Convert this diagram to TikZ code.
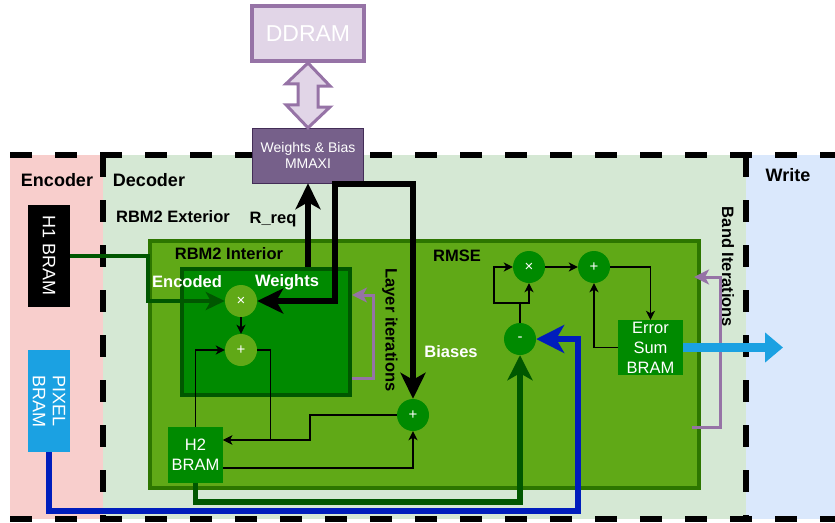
\documentclass[tikz,border=0pt]{standalone}
\usepackage{fontspec}
\setmainfont{Liberation Sans}
\usepackage{xcolor}
\usepackage{tikz}
\usetikzlibrary{positioning,arrows.meta}

\definecolor{encfill}{HTML}{F8CECC}
\definecolor{decfill}{HTML}{D5E8D4}
\definecolor{wrtfill}{HTML}{DAE8FC}
\definecolor{midgreen}{HTML}{60A917}
\definecolor{midgreenline}{HTML}{2D7600}
\definecolor{dkgreen}{HTML}{008A00}
\definecolor{dkgreenline}{HTML}{005700}
\definecolor{axifill}{HTML}{76608A}
\definecolor{axiline}{HTML}{432D57}
\definecolor{ddrfill}{HTML}{E1D5E7}
\definecolor{ddrline}{HTML}{9673A6}
\definecolor{pixblue}{HTML}{1BA1E2}
\definecolor{busblue}{HTML}{001DBC}

\begin{document}
\begin{tikzpicture}[
  x=1pt, y=-1pt,
  font=\fontsize{16.5}{20}\selectfont,
  border/.style={line width=5.5pt, dash pattern=on 22pt off 23pt},
  region/.style={font=\fontsize{18}{22}\selectfont\bfseries},
  title/.style={font=\fontsize{16.5}{20}\selectfont\bfseries},
  bram/.style={fill=dkgreen, text=white, align=center, inner sep=0pt, font=\fontsize{16.5}{20}\selectfont},
  op/.style={circle, fill=dkgreen, text=white, minimum size=32pt, inner sep=0pt, font=\fontsize{15}{17}\selectfont},
  subop/.style={op, fill=midgreen},
  flow/.style={-{Stealth[length=9pt, width=9pt, inset=2.5pt]}, line width=1.4pt},
  bus/.style={-{Stealth[length=26pt, width=25pt, inset=7pt]}, line width=6pt},
  iter/.style={-{Stealth[length=15pt, width=15pt, inset=4pt]}, draw=ddrline, line width=3pt}
]
\useasboundingbox (0,0) rectangle (835,522);
\fill[encfill] (10,155) rectangle (103,519);
\fill[decfill] (103,155) rectangle (746,519);
\fill[wrtfill] (746,155) rectangle (835,519);
\draw[border] (10,155) -- (835,155);
\draw[border] (10,519) -- (835,519);
\draw[border] (103,155) -- (103,519);
\draw[border] (746,155) -- (746,519);

\node[region] (enc) at (57,180) {Encoder};
\node[region] (dec) at (149,180) {Decoder};
\node[region] (wrt) at (788,175) {Write};
\node[title] (ext) at (173,217) {RBM2 Exterior};
\node[title] (rreq) at (273,220) {R\_req};

\node[draw=midgreenline, fill=midgreen, line width=4pt, minimum width=549pt, minimum height=247pt] (rbm) at (424.5,364.5) {};
\node[draw=dkgreenline, fill=dkgreen, line width=4pt, minimum width=168pt, minimum height=126pt] (inner) at (266,332) {};
\node[title] (rbmlbl) at (229,254) {RBM2 Interior};
\node[title] (rmse) at (457,256) {RMSE};
\node[title, text=white] (enclbl) at (187,282) {Encoded};
\node[title, text=white] (wlbl) at (287,282) {Weights};
\node[title, text=white] (blbl) at (451,352) {Biases};
\node[title, rotate=-90] (layer) at (390,330) {Layer iterations};
\node[title, rotate=-90] (band) at (728,267) {Band Iterations};

\node[draw=ddrline, fill=ddrfill, line width=4pt, text=white, minimum width=112pt, minimum height=55pt, font=\fontsize{23}{26}\selectfont] (ddram) at (308,33.5) {DDRAM};
\node[draw=axiline, fill=axifill, text=white, align=center, minimum width=111pt, minimum height=55pt, inner sep=0pt, font=\fontsize{14}{16.5}\selectfont] (mmaxi) at (308,155.5) {Weights \& Bias\\MMAXI};
\node[fill=black, text=white, rotate=-90, minimum width=102pt, minimum height=42pt, inner sep=0pt, font=\fontsize{18}{20}\selectfont] (h1) at (49,256) {H1 BRAM};
\node[fill=pixblue, text=white, rotate=-90, align=center, minimum width=102pt, minimum height=42pt, inner sep=0pt, font=\fontsize{18}{20}\selectfont] (pixel) at (49,401) {PIXEL\\BRAM};
\node[bram, minimum width=55pt, minimum height=56pt] (h2) at (195.5,455) {H2\\BRAM};
\node[bram, minimum width=65pt, minimum height=55pt] (errsum) at (650.5,347.5) {Error\\Sum\\BRAM};

\node[subop] (mul) at (241,301) {×};
\node[subop] (add) at (241,350) {+};
\node[op] (bias) at (413,415) {+};
\node[op] (sub) at (520,339) {-};
\node[op] (rmul) at (529,267) {×};
\node[op] (radd) at (594,267) {+};

\coordinate (wtap) at ([xshift=27pt, yshift=-0.5pt]mmaxi.south);
\coordinate (wrin) at (783,347.5);

\draw[ddrline, fill=ddrfill, line width=3pt] (ddram.south) -- ++(22,23) -- ++(-12,0) -- ++(0,21) -- ++(12,0) -- (mmaxi.north) -- ++(-22,-23) -- ++(12,0) -- ++(0,-21) -- ++(-12,0) -- cycle;

\draw[-{Stealth[length=19pt, width=18pt, inset=5pt]}, draw=dkgreenline, line width=3.5pt] (h1.north) -- ++(78,0) |- (mul.west);
\draw[bus, {Stealth[length=26pt, width=25pt, inset=7pt]}-{Stealth[length=26pt, width=25pt, inset=7pt]}] (mul.east) -| (wtap) -| (bias.north);
\draw[bus] (mmaxi.south |- inner.north) -- (mmaxi.south);
\draw[flow] (mul) -- (add);
\draw[flow] (h2.north) |- (add.west);
\draw[flow] (add.east) -- ++(13,0) |- ([yshift=15pt]h2.east);
\draw[flow] (bias.west) -- ++(-87,0) |- ([yshift=15pt]h2.east);
\draw[flow] ([yshift=-13pt]h2.east) -| (bias.south);
\draw[-{Stealth[length=25pt, width=25pt, inset=7pt]}, draw=dkgreenline, line width=5.5pt] (h2.south) -- ++(0,19) -| (sub.south);
\draw[-{Stealth[length=28pt, width=28pt, inset=8pt]}, draw=busblue, line width=6pt] (pixel.east) -- ++(0,59) -- ++(529,0) |- (sub.east);
\draw[iter] ([yshift=-46pt]inner.east) -- ++(21,0) |- ([yshift=37pt]inner.east);
\draw[iter] ([xshift=-9pt, yshift=-62.5pt]rbm.east) -- ++(28,0) |- ([xshift=-7pt, yshift=87.5pt]rbm.east);

\draw[flow] (sub.north) -- ++(0,-20) -| (rmul.south);
\draw[flow] (sub.north) -- ++(0,-20) -- ++(-26,0) |- (rmul.west);
\draw[flow] (rmul) -- (radd);
\draw[flow] (radd.east) -| (errsum.north);
\draw[flow] (errsum.west) -| (radd.south);
\draw[-{Triangle[length=18pt, width=29pt]}, draw=pixblue, line width=9pt] (errsum.east) -- (wrin);
\end{tikzpicture}
\end{document}
